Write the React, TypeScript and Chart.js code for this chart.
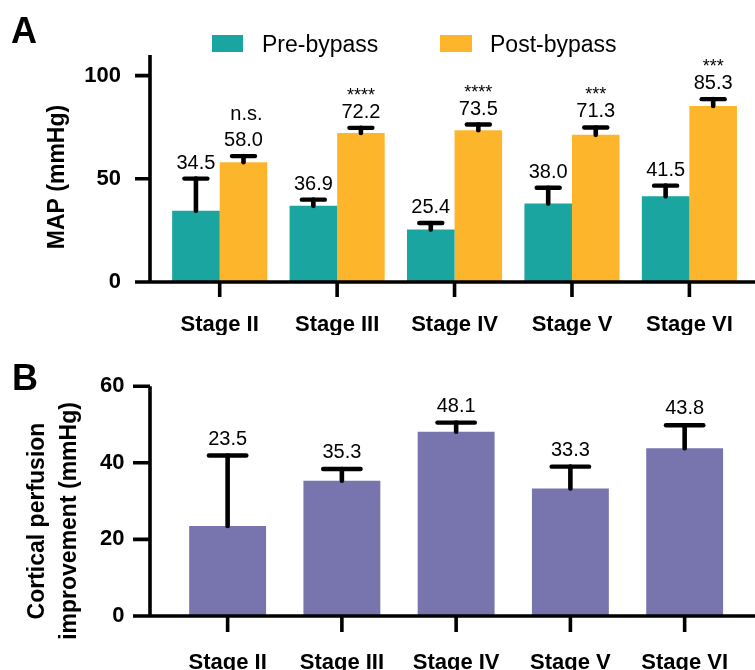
import React, { useEffect, useRef } from "react";
import { Chart, registerables } from "chart.js";

Chart.register(...registerables);

// ---------- data ----------
const stages = ["Stage II", "Stage III", "Stage IV", "Stage V", "Stage VI"];
const preBypass = [34.5, 36.9, 25.4, 38.0, 41.5];
const preBypassErr = [15.6, 3.0, 3.2, 7.7, 5.2];
const postBypass = [58.0, 72.2, 73.5, 71.3, 85.3];
const postBypassErr = [3.0, 2.5, 2.8, 3.6, 3.3];
const significance = ["n.s.", "****", "****", "***", "***"];
const improvement = [23.5, 35.3, 48.1, 33.3, 43.8];
const improvementErr = [18.4, 3.1, 2.4, 5.7, 6.0];
const mapMax = 110;
const mapStep = 50;
const perfMax = 60;
const perfStep = 20;

// ---------- style ----------
const FONT = "'Liberation Sans', Arial, Helvetica, sans-serif";
const TEAL = "#1ba5a1";
const ORANGE = "#fdb52c";
const PURPLE = "#7874ae";
const W = 755;
const HA = 335;
const HB = 335;

function drawAxes(chart: any, axisX: number, yTickLen: number, xTickLen: number) {
  const { ctx, chartArea } = chart;
  const yScale = chart.scales.y;
  const xScale = chart.scales.x;
  ctx.save();
  ctx.strokeStyle = "#000";
  ctx.lineWidth = 3.6;
  ctx.lineCap = "butt";
  ctx.beginPath();
  ctx.moveTo(axisX, chartArea.top);
  ctx.lineTo(axisX, chartArea.bottom);
  ctx.moveTo(axisX - yTickLen, chartArea.bottom);
  ctx.lineTo(W, chartArea.bottom);
  yScale.ticks.forEach((t: any) => {
    const y = yScale.getPixelForValue(t.value);
    ctx.moveTo(axisX - yTickLen, y);
    ctx.lineTo(axisX, y);
  });
  stages.forEach((_, i) => {
    const x = xScale.getPixelForValue(i);
    ctx.moveTo(x, chartArea.bottom);
    ctx.lineTo(x, chartArea.bottom + xTickLen);
  });
  ctx.stroke();
  ctx.restore();
}

function drawErrorBar(ctx: any, x: number, yTop: number, yCap: number, half: number) {
  ctx.save();
  ctx.strokeStyle = "#000";
  ctx.lineCap = "round";
  ctx.lineWidth = 4.6;
  ctx.beginPath();
  ctx.moveTo(x, yTop);
  ctx.lineTo(x, yCap);
  ctx.stroke();
  ctx.lineWidth = 4.4;
  ctx.beginPath();
  ctx.moveTo(x - half, yCap);
  ctx.lineTo(x + half, yCap);
  ctx.stroke();
  ctx.restore();
}

const panelAPlugin = {
  id: "panelA",
  afterDatasetsDraw(chart: any) {
    const { ctx } = chart;
    const yScale = chart.scales.y;
    drawAxes(chart, 150, 15, 15);
    const sets = [
      { vals: preBypass, errs: preBypassErr },
      { vals: postBypass, errs: postBypassErr },
    ];
    sets.forEach((s, di) => {
      const meta = chart.getDatasetMeta(di);
      meta.data.forEach((bar: any, i: number) => {
        const yTop = yScale.getPixelForValue(s.vals[i]);
        const yCap = yScale.getPixelForValue(s.vals[i] + s.errs[i]);
        drawErrorBar(ctx, bar.x, yTop, yCap, 11.5);
        ctx.save();
        ctx.fillStyle = "#000";
        ctx.textAlign = "center";
        ctx.textBaseline = "alphabetic";
        ctx.font = `20px ${FONT}`;
        ctx.fillText(s.vals[i].toFixed(1), bar.x, yCap - 10);
        if (di === 1) {
          const sig = significance[i];
          if (sig.startsWith("*")) {
            ctx.font = `18px ${FONT}`;
            ctx.fillText(sig, bar.x, yCap - 27);
          } else {
            ctx.font = `20px ${FONT}`;
            ctx.fillText(sig, bar.x + 3, yCap - 36);
          }
        }
        ctx.restore();
      });
    });
  },
  afterDraw(chart: any) {
    const { ctx } = chart;
    ctx.save();
    ctx.fillStyle = "#000";
    ctx.font = `bold 36px ${FONT}`;
    ctx.textAlign = "left";
    ctx.textBaseline = "alphabetic";
    ctx.fillText("A", 11, 43);
    // legend
    ctx.font = `23px ${FONT}`;
    ctx.fillStyle = TEAL;
    ctx.fillRect(212, 35, 31, 17);
    ctx.fillStyle = ORANGE;
    ctx.fillRect(440, 35, 32, 17);
    ctx.fillStyle = "#000";
    ctx.fillText("Pre-bypass", 262, 52);
    ctx.fillText("Post-bypass", 490, 52);
    // y title
    ctx.translate(57.5, 177);
    ctx.rotate(-Math.PI / 2);
    ctx.font = `bold 23px ${FONT}`;
    ctx.textAlign = "center";
    ctx.textBaseline = "middle";
    ctx.fillText("MAP (mmHg)", 0, 0);
    ctx.restore();
  },
};

const panelBPlugin = {
  id: "panelB",
  afterDatasetsDraw(chart: any) {
    const { ctx } = chart;
    const yScale = chart.scales.y;
    drawAxes(chart, 150, 17, 16);
    const meta = chart.getDatasetMeta(0);
    meta.data.forEach((bar: any, i: number) => {
      const yTop = yScale.getPixelForValue(improvement[i]);
      const yCap = yScale.getPixelForValue(improvement[i] + improvementErr[i]);
      drawErrorBar(ctx, bar.x, yTop, yCap, 18.7);
      ctx.save();
      ctx.fillStyle = "#000";
      ctx.textAlign = "center";
      ctx.textBaseline = "alphabetic";
      ctx.font = `20px ${FONT}`;
      ctx.fillText(improvement[i].toFixed(1), bar.x, yCap - 11);
      ctx.restore();
    });
  },
  afterDraw(chart: any) {
    const { ctx } = chart;
    ctx.save();
    ctx.fillStyle = "#000";
    ctx.font = `bold 36px ${FONT}`;
    ctx.textAlign = "left";
    ctx.textBaseline = "alphabetic";
    ctx.fillText("B", 12, 55);
    ctx.translate(0, 186);
    ctx.rotate(-Math.PI / 2);
    ctx.font = `bold 23px ${FONT}`;
    ctx.textAlign = "center";
    ctx.textBaseline = "middle";
    ctx.fillText("Cortical perfusion", 0, 38);
    ctx.fillText("improvement (mmHg)", 0, 70);
    ctx.restore();
  },
};

const tickFont = { family: FONT, size: 22, weight: "bold" as const };

export default function App() {
  const refA = useRef<HTMLCanvasElement>(null);
  const refB = useRef<HTMLCanvasElement>(null);

  useEffect(() => {
    document.body.style.margin = "0";
    const chartA = new Chart(refA.current as HTMLCanvasElement, {
      type: "bar",
      data: {
        labels: stages,
        datasets: [
          { label: "Pre-bypass", data: preBypass, backgroundColor: TEAL, categoryPercentage: 0.81, barPercentage: 1 },
          { label: "Post-bypass", data: postBypass, backgroundColor: ORANGE, categoryPercentage: 0.81, barPercentage: 1 },
        ],
      },
      options: {
        responsive: false,
        animation: false,
        layout: { padding: { top: 55, right: 2, left: 0, bottom: 0 } },
        plugins: { legend: { display: false }, tooltip: { enabled: false } },
        scales: {
          x: {
            grid: { display: false },
            border: { display: false },
            ticks: { font: tickFont, color: "#000", padding: 22, maxRotation: 0, autoSkip: false },
            afterFit: (s: any) => { s.height = HA - 282; },
          },
          y: {
            min: 0,
            max: mapMax,
            grid: { display: false },
            border: { display: false },
            ticks: { stepSize: mapStep, includeBounds: false, font: tickFont, color: "#000", padding: 32 },
            afterFit: (s: any) => { s.width = 161; },
          },
        },
      } as any,
      plugins: [panelAPlugin],
    });
    const chartB = new Chart(refB.current as HTMLCanvasElement, {
      type: "bar",
      data: {
        labels: stages,
        datasets: [
          { label: "Cortical perfusion improvement", data: improvement, backgroundColor: PURPLE, categoryPercentage: 1, barPercentage: 0.673 },
        ],
      },
      options: {
        responsive: false,
        animation: false,
        layout: { padding: { top: 49, right: 9.5, left: 0, bottom: 0 } },
        plugins: { legend: { display: false }, tooltip: { enabled: false } },
        scales: {
          x: {
            grid: { display: false },
            border: { display: false },
            ticks: { font: tickFont, color: "#000", padding: 26, maxRotation: 0, autoSkip: false },
            afterFit: (s: any) => { s.height = HB - 281; },
          },
          y: {
            min: 0,
            max: perfMax,
            grid: { display: false },
            border: { display: false },
            ticks: { stepSize: perfStep, includeBounds: false, font: tickFont, color: "#000", padding: 38 },
            afterFit: (s: any) => { s.width = 170.5; },
          },
        },
      } as any,
      plugins: [panelBPlugin],
    });
    return () => {
      chartA.destroy();
      chartB.destroy();
    };
  }, []);

  return (
    <div style={{ position: "relative", width: W, height: HA + HB, background: "#fff" }}>
      <canvas ref={refA} width={W} height={HA} style={{ position: "absolute", left: 0, top: 0 }} />
      <canvas ref={refB} width={W} height={HB} style={{ position: "absolute", left: 0, top: HA }} />
    </div>
  );
}
